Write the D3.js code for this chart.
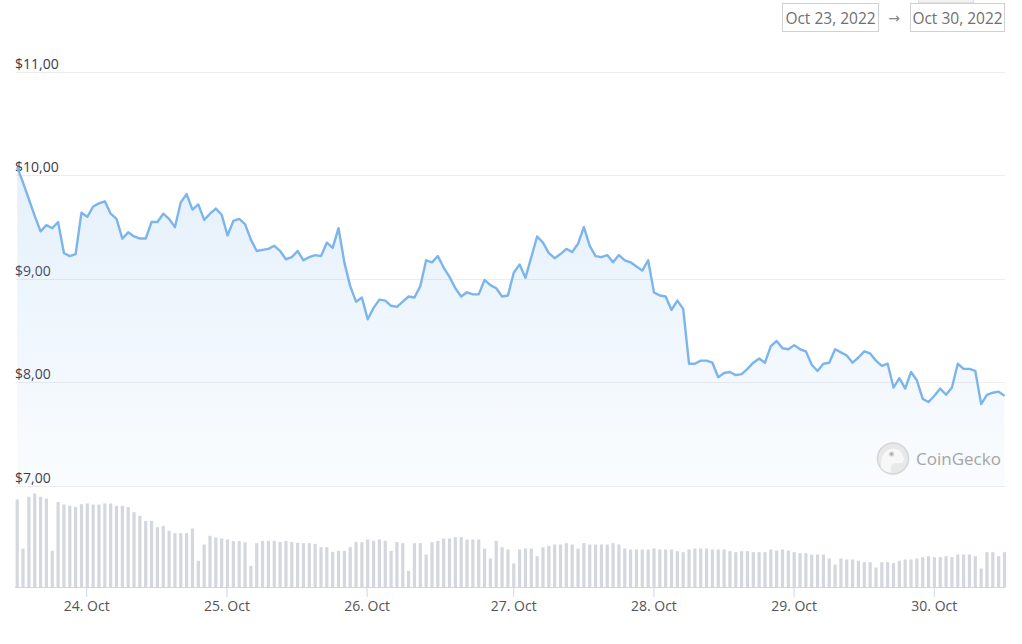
<!DOCTYPE html>
<html>
<head>
<meta charset="utf-8">
<script src="https://cdn.jsdelivr.net/npm/d3@7"></script>
<style>
  html, body { margin: 0; padding: 0; background: #ffffff; }
  svg { display: block; font-family: "Open Sans", "DejaVu Sans", sans-serif; }
</style>
</head>
<body>
<svg id="chart" width="1022" height="644"></svg>
<script>
// ---------------- DATA ----------------
// hourly price (USD), Oct 23 2022 ~12:00 UTC -> Oct 30 2022 ~13:00 UTC
const prices = [
  10.08, 9.93, 9.77, 9.61, 9.46, 9.52, 9.49, 9.55, 9.25, 9.22,
  9.24, 9.64, 9.60, 9.70, 9.73, 9.75, 9.63, 9.58, 9.39, 9.45,
  9.41, 9.39, 9.39, 9.55, 9.55, 9.63, 9.58, 9.50, 9.74, 9.82,
  9.67, 9.72, 9.57, 9.63, 9.68, 9.62, 9.42, 9.56, 9.58, 9.53,
  9.38, 9.27, 9.28, 9.29, 9.32, 9.27, 9.19, 9.21, 9.27, 9.18,
  9.21, 9.23, 9.22, 9.35, 9.30, 9.49, 9.16, 8.93, 8.78, 8.82,
  8.61, 8.72, 8.80, 8.79, 8.74, 8.73, 8.78, 8.83, 8.82, 8.93,
  9.18, 9.16, 9.22, 9.11, 9.02, 8.91, 8.83, 8.87, 8.85, 8.85,
  8.99, 8.94, 8.91, 8.83, 8.84, 9.06, 9.14, 9.01, 9.21, 9.41,
  9.35, 9.25, 9.20, 9.24, 9.29, 9.26, 9.34, 9.50, 9.32, 9.22,
  9.21, 9.23, 9.16, 9.23, 9.18, 9.16, 9.12, 9.08, 9.18, 8.87,
  8.84, 8.83, 8.70, 8.79, 8.71, 8.18, 8.18, 8.21, 8.21, 8.19,
  8.05, 8.09, 8.10, 8.07, 8.08, 8.13, 8.19, 8.23, 8.19, 8.35,
  8.40, 8.33, 8.32, 8.36, 8.32, 8.30, 8.17, 8.11, 8.18, 8.19,
  8.32, 8.29, 8.26, 8.19, 8.24, 8.30, 8.28, 8.21, 8.16, 8.18,
  7.95, 8.04, 7.94, 8.10, 8.02, 7.84, 7.81, 7.87, 7.94, 7.88,
  7.95, 8.18, 8.13, 8.13, 8.11, 7.79, 7.88, 7.90, 7.91, 7.87
];

// hourly traded volume (USD millions)
const volumes = [
  2.64, 1.17, 2.72, 2.82, 2.72, 2.67, 1.10, 2.56, 2.49, 2.45,
  2.42, 2.50, 2.52, 2.49, 2.49, 2.52, 2.52, 2.45, 2.45, 2.41,
  2.26, 2.15, 2.00, 2.00, 1.81, 1.85, 1.70, 1.63, 1.63, 1.63,
  1.77, 0.80, 1.29, 1.55, 1.50, 1.47, 1.44, 1.39, 1.39, 1.36,
  0.65, 1.33, 1.40, 1.40, 1.40, 1.37, 1.40, 1.36, 1.34, 1.33,
  1.33, 1.31, 1.21, 1.21, 1.07, 1.10, 1.10, 1.21, 1.36, 1.36,
  1.44, 1.40, 1.44, 1.40, 1.10, 1.36, 1.33, 0.50, 1.33, 1.33,
  0.99, 1.36, 1.40, 1.47, 1.47, 1.51, 1.51, 1.44, 1.44, 1.44,
  1.17, 0.87, 1.40, 1.21, 1.14, 0.72, 1.14, 1.17, 1.17, 0.94,
  1.21, 1.25, 1.29, 1.29, 1.33, 1.29, 1.17, 1.33, 1.29, 1.29,
  1.29, 1.29, 1.33, 1.29, 1.17, 1.14, 1.14, 1.14, 1.14, 1.17,
  1.14, 1.14, 1.14, 1.09, 1.06, 1.14, 1.17, 1.17, 1.17, 1.14,
  1.14, 1.14, 1.09, 1.06, 1.09, 1.09, 1.06, 1.06, 1.06, 1.14,
  1.11, 1.14, 1.11, 1.06, 1.03, 1.03, 0.99, 0.99, 0.99, 0.87,
  0.69, 0.87, 0.84, 0.84, 0.80, 0.76, 0.76, 0.60, 0.76, 0.76,
  0.73, 0.80, 0.84, 0.84, 0.87, 0.91, 0.94, 0.91, 0.91, 0.94,
  0.91, 0.99, 0.99, 0.99, 0.94, 0.57, 1.06, 1.06, 0.94, 1.06
];

// sample timestamps: runs of hourly points (start, count)
const timeRuns = [
  ["2022-10-23T12:11:00Z", 73],
  ["2022-10-26T12:40:00Z", 1],
  ["2022-10-26T13:06:00Z", 96]
];

const priceTicks = [7, 8, 9, 10, 11];
const dayTicks = ["2022-10-24", "2022-10-25", "2022-10-26", "2022-10-27",
                  "2022-10-28", "2022-10-29", "2022-10-30"];
const rangeLabels = ["Oct 23, 2022", "Oct 30, 2022"];
const rangeArrow = "\u2192";
const brandName = "CoinGecko";

// ---------------- BUILD ----------------
const svg = d3.select("#chart");
const plotLeft = 16, plotRight = 1005;

const times = [];
timeRuns.forEach(([s, n]) => {
  const t0 = new Date(s);
  d3.range(n).forEach(k => times.push(d3.utcHour.offset(t0, k)));
});
const data = prices.map((p, i) => ({ i, t: times[i], p, v: volumes[i] }));

// ordinal-style x: equally spaced samples
const xIdx = d3.scaleLinear().domain([0, prices.length - 1]).range([17.2, 1004.5]);
const xTime = d3.scaleUtc().domain(times).range(times.map((t, i) => xIdx(i)));

const yPrice = d3.scaleLinear().domain([7, 11]).range([485.8, 72]);
const yVol = d3.scaleLinear().domain([0, 3]).range([587.5, 487.5]);

const loc = d3.formatLocale({ decimal: ",", thousands: ".", grouping: [3], currency: ["$", ""] });
const fmtPrice = loc.format("$.2f");

// defs
const defs = svg.append("defs");
const grad = defs.append("linearGradient").attr("id", "areaGrad")
  .attr("gradientUnits", "userSpaceOnUse")
  .attr("x1", 0).attr("x2", 0).attr("y1", yPrice(10.1)).attr("y2", yPrice(7));
grad.append("stop").attr("offset", "0%").attr("stop-color", "#7cb5ec").attr("stop-opacity", 0.2);
grad.append("stop").attr("offset", "100%").attr("stop-color", "#7cb5ec").attr("stop-opacity", 0.04);

// grid lines
svg.append("g").selectAll("line").data(priceTicks).join("line")
  .attr("x1", plotLeft).attr("x2", plotRight)
  .attr("y1", d => Math.round(yPrice(d)) + 0.5).attr("y2", d => Math.round(yPrice(d)) + 0.5)
  .attr("stroke", "#ededed").attr("stroke-width", 1);

// y labels
svg.append("g").selectAll("text").data(priceTicks).join("text")
  .attr("x", 15).attr("y", d => yPrice(d) - 3)
  .attr("font-size", 14).attr("fill", "#3a3a4a")
  .text(d => fmtPrice(d));

// area + line
const area = d3.area().x(d => xIdx(d.i)).y0(yPrice(7)).y1(d => yPrice(d.p));
const line = d3.line().x(d => xIdx(d.i)).y(d => yPrice(d.p));
svg.append("path").datum(data).attr("d", area).attr("fill", "url(#areaGrad)");
svg.append("path").datum(data).attr("d", line)
  .attr("fill", "none").attr("stroke", "#7cb5ec").attr("stroke-width", 2.4)
  .attr("stroke-linejoin", "round");

// volume bars
svg.append("g").selectAll("rect").data(data).join("rect")
  .attr("x", d => xIdx(d.i) - 1.6).attr("width", 3.2)
  .attr("y", d => yVol(d.v)).attr("height", d => yVol(0) - yVol(d.v))
  .attr("fill", "#d4d7de");

// x axis
svg.append("line").attr("x1", 15).attr("x2", plotRight)
  .attr("y1", 587.5).attr("y2", 587.5).attr("stroke", "#ccd6eb");
const xAxis = d3.axisBottom(xTime)
  .tickValues(dayTicks.map(d => new Date(d + "T00:00:00Z")))
  .tickFormat(d3.utcFormat("%-d. %b"))
  .tickSize(10).tickPadding(4);
const gx = svg.append("g").attr("transform", "translate(0,587)").call(xAxis);
gx.select(".domain").remove();
gx.selectAll(".tick line").attr("stroke", "#ccd6eb");
gx.selectAll(".tick text").attr("font-size", 14).attr("fill", "#555")
  .attr("font-family", "\"Open Sans\", sans-serif");

// top tab (partially visible)
svg.append("rect").attr("x", 918.5).attr("y", -20).attr("width", 55).attr("height", 22.5)
  .attr("fill", "#f3f3f3").attr("stroke", "#e2e2e2");

// date range boxes
const boxes = [{ x: 782.5, w: 96, label: rangeLabels[0] }, { x: 910.5, w: 94, label: rangeLabels[1] }];
const gb = svg.append("g");
gb.selectAll("rect").data(boxes).join("rect")
  .attr("x", d => d.x).attr("y", 3.5).attr("width", d => d.w).attr("height", 28)
  .attr("fill", "#fff").attr("stroke", "#d0d0d0");
gb.selectAll("text").data(boxes).join("text")
  .attr("x", d => d.x + d.w / 2).attr("y", 23.5).attr("text-anchor", "middle")
  .attr("font-size", 15.5).attr("fill", "#707070").text(d => d.label);
svg.append("text").attr("x", 894).attr("y", 22.5).attr("text-anchor", "middle")
  .attr("font-size", 14).attr("fill", "#888").text(rangeArrow);

// watermark
const wm = svg.append("g").attr("transform", "translate(893,458.5)").attr("opacity", 0.9);
wm.append("circle").attr("r", 15.5).attr("fill", "#e6e6e6").attr("stroke", "#d2d2d2").attr("stroke-width", 1.5);
wm.append("path")
  .attr("d", "M-12,9 C-13,0 -9,-9 -1,-10 C5,-10.5 9,-7 10,-2 C12,1 11,4 7,4.5 C3,5 1,4 -1,6 C-3,9 -2,12 -1,14 C-6,14 -10,12 -12,9 Z")
  .attr("fill", "#f7f7f7");
wm.append("circle").attr("cx", -1.5).attr("cy", -4.5).attr("r", 2.6).attr("fill", "#cfcfcf");
wm.append("circle").attr("cx", -1.5).attr("cy", -4.5).attr("r", 1.2).attr("fill", "#9a9a9a");
svg.append("text").attr("x", 916).attr("y", 465).attr("font-size", 17)
  .attr("fill", "#a5a5a5").text(brandName);
</script>
</body>
</html>
